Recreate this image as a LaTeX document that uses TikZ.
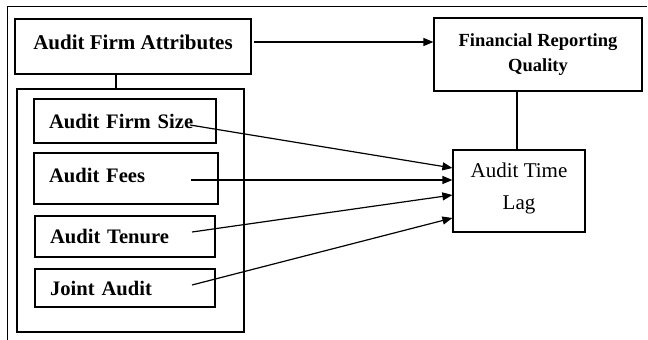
\documentclass[tikz,border=0pt]{standalone}
\usepackage{fontspec}
\setmainfont{Liberation Serif}
\usetikzlibrary{arrows.meta,calc}
\begin{document}
\begin{tikzpicture}[x=1pt,y=1pt,
  every node/.style={line width=1.2pt},
  box/.style={draw, rectangle, inner sep=0pt},
  item/.style={box, font=\fontsize{20.6}{25}\selectfont\bfseries,
    align=left, inner xsep=15pt},
  link/.style={line width=1.2pt},
  arr/.style={line width=1.2pt, -{Triangle[length=10pt,width=8pt]}}]
\useasboundingbox (0,0) rectangle (648,340);
% page frame edges
\draw[line width=1pt] (7,0) -- (7,333) -- (647,333);

% attribute header and its group
\node[box, minimum width=236pt, minimum height=55pt, text depth=9pt,
      font=\fontsize{21}{25}\selectfont\bfseries] (afa) at (133,293.5) {Audit Firm Attributes};
\node[box, minimum width=227pt, minimum height=243pt] (grp) at (130.5,129.5) {};

% individual attributes
\node[item, text width=152pt, minimum height=44pt] (size)   at (125,219)   {Audit Firm Size};
\node[item, text width=154pt, minimum height=51pt, text depth=7pt] (fees) at (126,161.5) {Audit Fees};
\node[item, text width=150pt, minimum height=41pt] (tenure) at (125,103.5) {Audit Tenure};
\node[item, text width=150pt, minimum height=38pt] (joint)  at (125,52)    {Joint Audit};

% outcomes
\node[box, minimum width=208pt, minimum height=73pt, align=center,
      font=\fontsize{18.5}{25}\selectfont\bfseries] (frq) at (538,285.5) {Financial Reporting\\Quality};
\node[box, minimum width=132pt, minimum height=82pt, align=center, text depth=10pt,
      font=\fontsize{21}{32}\selectfont] (atl) at (519,149) {Audit Time\\Lag};

% arrow start points inside the attribute boxes
\coordinate (s1) at (190,215);
\coordinate (s2) at (191,160);
\coordinate (s3) at (192,108);
\coordinate (s4) at (192,55);

% connectors
\draw[link] ([xshift=-17pt]afa.south) -- ([xshift=-17pt]afa.south |- grp.north);
\draw[arr, shorten <=2pt] ([yshift=4.5pt]afa.east) -- ([yshift=4.5pt]afa.east -| frq.west);
\draw[link] ([xshift=-2pt]atl.north) -- ([xshift=-2pt]atl.north |- frq.south);
\draw[arr] (s1) -- ([yshift=23pt]atl.west);
\draw[arr] (s2) -- ([yshift=11pt]atl.west);
\draw[arr] (s3) -- ([yshift=-4pt]atl.west);
\draw[arr] (s4) -- ([yshift=-27pt]atl.west);
\end{tikzpicture}
\end{document}
